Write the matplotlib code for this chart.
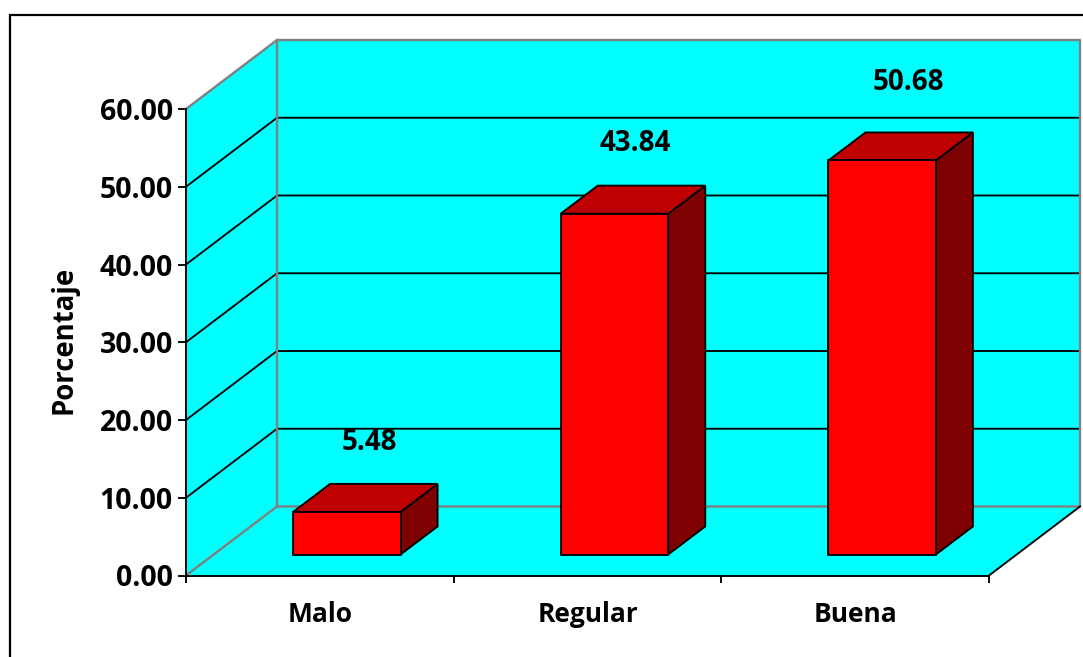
import matplotlib
matplotlib.use("Agg")
import matplotlib.pyplot as plt
from matplotlib.lines import Line2D
from matplotlib.patches import Polygon

categories = ["Malo", "Regular", "Buena"]
values = [5.48, 43.84, 50.68]
value_ticks = [0, 10, 20, 30, 40, 50, 60]

W, H = 1083, 657
plt.rcParams["font.family"] = ["Open Sans", "DejaVu Sans"]
plt.rcParams["font.weight"] = "bold"

fig = plt.figure(figsize=(W / 100, H / 100), dpi=100)
# axes box is the front plane of the 3d chart
ax = fig.add_axes([186 / W, (H - 575.5) / H, 803 / W, 466.5 / H])
ax.set_xlim(0, 3)
ax.set_ylim(0, 60)
ax.patch.set_visible(False)

px_x = 3 / 803
px_y = 60 / 466.5
depth_x = 91 * px_x
depth_y = 69 * px_y

CYAN = "#00FFFF"
GREY = "#808080"
LW = 1.35


def poly(pts, face, edge="none", lw=0, z=1):
    ax.add_patch(Polygon(pts, closed=True, facecolor=face, edgecolor=edge,
                         linewidth=lw, zorder=z, clip_on=False, joinstyle="miter"))


# walls and floor
poly([(0, 0), (depth_x, depth_y), (depth_x, 60 + depth_y), (0, 60)], CYAN)
poly([(depth_x, depth_y), (3 + depth_x, depth_y), (3 + depth_x, 60 + depth_y), (depth_x, 60 + depth_y)], CYAN)
poly([(0, 0), (3, 0), (3 + depth_x, depth_y), (depth_x, depth_y)], CYAN)

for v in value_ticks[1:-1]:
    ax.plot([0, depth_x, 3 + depth_x], [v, v + depth_y, v + depth_y], color="black", lw=LW,
            zorder=2, clip_on=False, solid_joinstyle="miter")

ax.plot([0, depth_x, depth_x], [60, 60 + depth_y, depth_y], color=GREY, lw=1.7, zorder=3, clip_on=False)
ax.plot([depth_x, 3 + depth_x, 3 + depth_x, depth_x, 0], [60 + depth_y, 60 + depth_y, depth_y, depth_y, 0],
        color=GREY, lw=1.7, zorder=3, clip_on=False)
ax.plot([3, 3 + depth_x], [0, depth_y], color="black", lw=LW, zorder=3, clip_on=False)

# bars
bar_w = 107.5 * px_x
inset_x = 27 * px_x
inset_y = 21 * px_y
bar_dx = 37 * px_x
bar_dy = 28 * px_y
label_dx = [23, 21, 26]
label_dy = [69, 70, 78]

for i, v in enumerate(values):
    x0 = i + 0.5 - bar_w / 2 + inset_x
    x1 = x0 + bar_w
    y0 = inset_y
    y1 = inset_y + v
    z = 5
    poly([(x1, y0), (x1 + bar_dx, y0 + bar_dy), (x1 + bar_dx, y1 + bar_dy), (x1, y1)],
         "#7F0000", "black", LW, z)
    poly([(x0, y1), (x1, y1), (x1 + bar_dx, y1 + bar_dy), (x0 + bar_dx, y1 + bar_dy)],
         "#BF0000", "black", LW, z)
    poly([(x0, y0), (x1, y0), (x1, y1), (x0, y1)], "#FF0000", "black", LW, z + 1)
    ax.annotate(f"{v:.2f}", xy=((x0 + x1) / 2, y1), xytext=(label_dx[i], label_dy[i]),
                textcoords="offset pixels", ha="center", va="center",
                fontsize=20, fontweight="bold", color="black", zorder=8,
                annotation_clip=False)

# axes
for side in ["top", "right"]:
    ax.spines[side].set_visible(False)
for side in ["left", "bottom"]:
    ax.spines[side].set_linewidth(LW)
    ax.spines[side].set_zorder(4)

ax.set_yticks(value_ticks)
ax.set_yticklabels([f"{v:.2f}" for v in value_ticks], fontsize=20.5, fontweight="bold")
ax.tick_params(axis="y", length=5.5, width=LW, pad=4)
ax.set_xticks([0, 1, 2, 3])
ax.set_xticklabels([])
ax.tick_params(axis="x", which="major", length=5, width=LW)
ax.set_xticks([0.5, 1.5, 2.5], minor=True)
ax.set_xticklabels(categories, minor=True, fontsize=19, fontweight="bold")
ax.tick_params(axis="x", which="minor", length=0, pad=18)

fig.text(64 / W, 1 - 340 / H, "Porcentaje", rotation=90, ha="center", va="center",
         fontsize=19.8, fontweight="bold")

# outer chart frame, runs off the image on the right and bottom
fig.add_artist(Line2D([9.5 / W, 9.5 / W, 1], [0, 1 - 15 / H, 1 - 15 / H], color="black", lw=1.6,
                      solid_joinstyle="miter"))

fig.savefig("out.png", dpi=100)
